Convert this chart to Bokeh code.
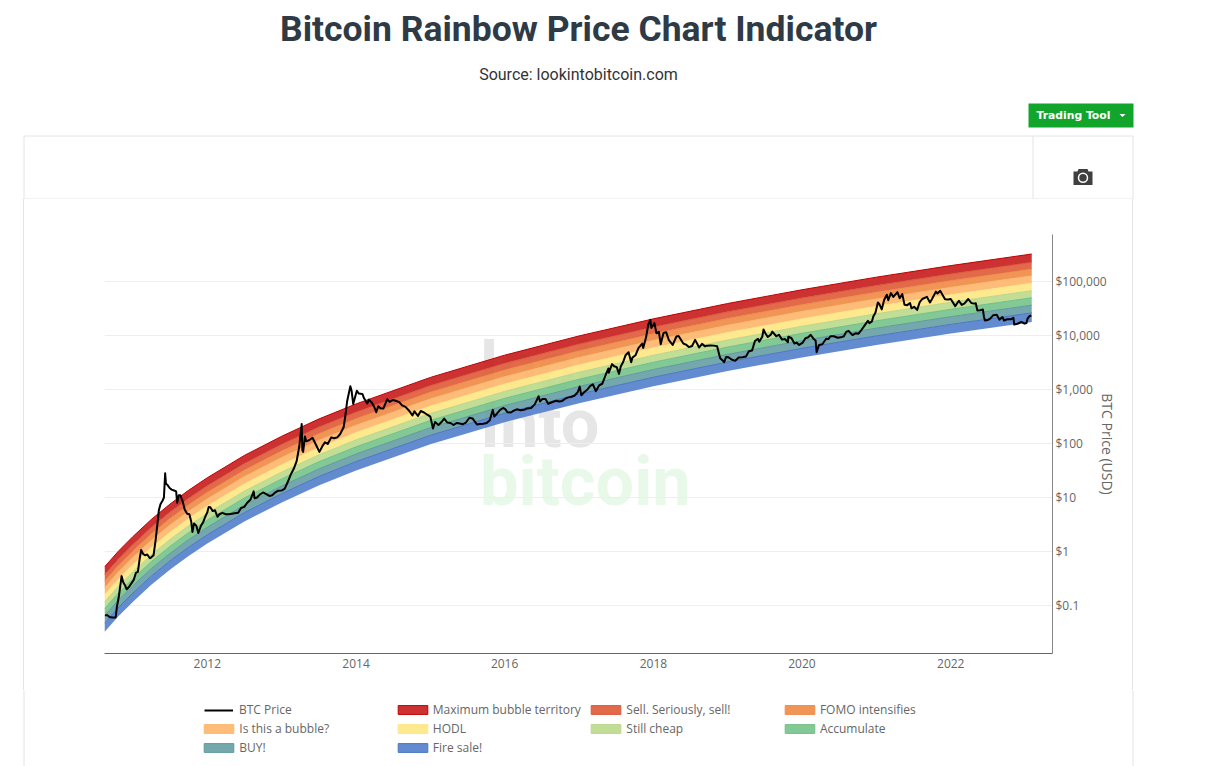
import pandas as pd
from bokeh.plotting import figure
from bokeh.layouts import column
from bokeh.embed import file_html
from bokeh.resources import INLINE
from bokeh.core.properties import value
from bokeh.models import (ColumnDataSource, DatetimeTickFormatter, FixedTicker,
                          Legend, LegendItem, Range1d)

title_text = "Bitcoin Rainbow Price Chart Indicator"
source_text = "Source: lookintobitcoin.com"
button_text = "Trading Tool"
y_title = "BTC Price (USD)"
watermark_rows = ["look", "Into", "bitcoin"]
watermark_colors = ["#e6e6e6", "#e6e6e6", "#e8f9ea"]

year_ticks = ["2012-01-01", "2014-01-01", "2016-01-01", "2018-01-01", "2020-01-01", "2022-01-01"]
price_ticks = [0.1, 1, 10, 100, 1000, 10000, 100000]
price_tick_labels = ["$0.1", "$1", "$10", "$100", "$1,000", "$10,000", "$100,000"]

# BTC price, year by year
d2010 = ["08-17","08-28","09-08","09-20","10-01","10-08","10-14","10-24","11-06","11-14","11-22","12-01","12-12","12-25"]
p2010 = [.066,.066,.061,.06,.06,.06,.095,.15,.35,.27,.24,.2,.22,.26]
d2011 = ["01-05","01-15","01-25","02-02","02-10","02-20","03-01","03-12","03-25","04-01","04-12","04-22","05-01","05-08","05-16","05-26","06-02","06-08","06-12","06-20","06-30","07-10","07-22","08-01","08-06","08-14","08-22","09-02","09-12","09-24","10-05","10-14","10-20","10-28","11-08","11-18","12-01","12-12","12-22"]
p2011 = [.3,.4,.42,.7,1.07,.9,.85,.88,.75,.78,.85,1.6,3.2,5.8,7.5,8.7,10,28,18,17,15,14,13.5,13,8,11,11,8.5,6,5,4.9,3.6,2.3,3.3,3,2.2,3,3.5,4.4]
d2012 = ["01-01","01-08","01-16","01-28","02-08","02-20","03-01","03-15","04-01","04-15","05-01","05-15","06-01","06-15","07-01","07-15","08-01","08-16","08-20","09-01","09-15","10-01","10-15","11-01","11-15","12-01","12-15"]
p2012 = [5.3,6.7,6.6,5.6,5.8,4.4,4.9,5.2,4.9,4.9,5,5.1,5.2,6.4,6.7,8,9.2,13,9.7,10,11.3,12.4,11.7,10.7,11,12.5,13.4]
d2013 = ["01-01","01-15","02-01","02-15","03-01","03-15","03-28","04-09","04-12","04-16","04-25","05-01","05-15","06-01","06-15","07-05","07-20","08-01","08-15","09-01","09-15","10-01","10-15","11-01","11-10","11-18","11-25","12-04","12-10","12-18","12-28"]
p2013 = [13.5,14.5,20,27,34,47,88,230,75,70,135,110,115,128,100,70,90,105,98,130,125,130,150,200,340,600,800,1150,950,540,740]
d2014 = ["01-05","01-15","02-01","02-10","02-25","03-05","03-20","04-01","04-10","04-20","05-01","05-15","06-03","06-15","07-01","07-15","08-01","08-15","09-01","09-20","10-05","10-15","11-01","11-15","12-01","12-15"]
p2014 = [950,840,830,680,550,650,570,470,380,490,450,445,660,590,640,620,585,510,478,400,330,395,325,400,375,345]
d2015 = ["01-01","01-14","01-24","02-10","02-25","03-10","03-25","04-10","04-25","05-10","05-25","06-10","06-25","07-12","07-28","08-18","09-01","09-18","10-05","10-20","11-04","11-11","11-25","12-10","12-25"]
p2015 = [315,190,250,220,250,290,245,240,220,240,235,228,245,300,290,225,230,232,240,270,420,315,360,420,455]
d2016 = ["01-05","01-15","02-01","02-15","03-01","03-20","04-05","04-20","05-10","05-28","06-16","06-23","07-05","07-20","08-02","08-20","09-10","09-25","10-10","10-28","11-10","11-25","12-10","12-25"]
p2016 = [430,380,375,405,430,412,420,445,455,530,750,600,670,665,545,580,620,600,615,690,715,735,775,890]
d2017 = ["01-04","01-12","01-25","02-10","02-25","03-10","03-24","04-10","04-25","05-10","05-25","05-27","06-12","06-22","07-05","07-16","07-25","08-05","08-17","09-01","09-14","09-20","10-05","10-20","11-07","11-12","11-26","12-07","12-17","12-22"]
p2017 = [1130,780,890,990,1170,1250,930,1200,1280,1800,2450,2050,2950,2700,2600,1950,2700,3200,4300,4900,3200,3900,4300,5900,7100,5900,9300,16000,19500,13800]
d2018 = ["01-06","01-16","01-28","02-06","02-20","03-05","03-18","04-06","04-24","05-05","05-28","06-10","06-24","07-10","07-25","08-14","08-28","09-12","09-20","10-10","10-25","11-10","11-20","11-25","12-06","12-15","12-24"]
p2018 = [17000,11000,11700,6900,11200,11500,8200,6700,9600,9800,7100,6800,6100,6400,8300,6000,7000,6300,6500,6550,6500,6350,4500,3800,3500,3200,4000]
d2019 = ["01-05","01-20","02-07","02-24","03-15","04-01","04-15","05-01","05-15","05-30","06-05","06-20","06-26","07-05","07-17","08-01","08-08","08-28","09-10","09-25","10-10","10-24","10-26","11-10","11-25","12-05","12-18"]
p2019 = [3950,3600,3400,3900,3950,4100,5100,5300,7900,8700,7700,9500,12900,11000,9400,10400,11800,9700,10300,8400,8600,7500,9500,9000,7100,7400,6700]
d2020 = ["01-05","01-18","02-01","02-13","02-28","03-08","03-13","03-25","04-10","04-29","05-10","05-20","06-05","06-25","07-10","07-25","08-05","08-17","09-05","09-20","10-05","10-20","11-05","11-20","11-27","12-10","12-17","12-27"]
p2020 = [7400,8900,9300,10300,8600,8100,4900,6700,6900,8700,8600,9700,9700,9100,9250,9700,11700,12200,10200,11000,10800,12800,15600,18700,17000,18300,22800,26500]
d2021 = ["01-08","01-14","01-27","02-08","02-21","02-28","03-13","03-25","04-14","04-25","05-08","05-19","06-01","06-15","06-22","07-05","07-20","08-01","08-14","09-06","09-21","10-01","10-20","10-28","11-10","11-22","12-04","12-20"]
p2021 = [41000,39000,30500,46000,57000,45000,61000,52000,63500,49000,58500,37000,36500,40000,32000,34000,29800,41000,47500,52000,41000,47500,65000,60000,67500,56500,47000,46500]
d2022 = ["01-01","01-23","02-10","02-24","03-10","03-28","04-12","04-25","05-04","05-12","05-25","06-08","06-13","06-18","07-01","07-15","07-29","08-15","08-28","09-12","09-20","10-05","10-25","11-05","11-09","11-25","12-14","12-30"]
p2022 = [47500,35000,44000,37000,39500,47500,40000,39000,39700,29000,29500,30300,22500,19000,19300,20800,23800,24300,19700,22000,19000,20000,20100,21200,16000,16500,17800,16600]
d2023 = ["01-08","01-14","01-22","02-01"]
p2023 = [17100,20800,22700,23500]
btc_years = {2010:(d2010,p2010),2011:(d2011,p2011),2012:(d2012,p2012),2013:(d2013,p2013),2014:(d2014,p2014),2015:(d2015,p2015),2016:(d2016,p2016),2017:(d2017,p2017),2018:(d2018,p2018),2019:(d2019,p2019),2020:(d2020,p2020),2021:(d2021,p2021),2022:(d2022,p2022),2023:(d2023,p2023)}

# Band edges, log10(USD), upper edge of each band then the floor
band_dates = ["2010-08-14","2010-10-19","2011-01-01","2011-04-01","2011-07-01","2011-10-01","2012-01-01","2012-07-01","2013-01-01","2013-07-01","2014-01-01","2015-01-01","2016-01-01","2017-01-01","2018-01-01","2019-01-01","2020-01-01","2021-01-01","2022-01-01","2023-02-03"]
edge_max_bubble = [-0.287,-0.003,0.278,0.594,0.876,1.133,1.366,1.779,2.135,2.452,2.733,3.224,3.636,3.993,4.309,4.593,4.848,5.081,5.295,5.510]
edge_sell = [-0.436,-0.153,0.128,0.444,0.725,0.982,1.215,1.627,1.983,2.299,2.580,3.070,3.482,3.839,4.154,4.438,4.693,4.925,5.139,5.354]
edge_fomo = [-0.555,-0.272,0.008,0.324,0.605,0.862,1.094,1.506,1.861,2.178,2.458,2.948,3.359,3.715,4.031,4.314,4.569,4.801,5.014,5.229]
edge_bubble = [-0.675,-0.391,-0.111,0.204,0.485,0.741,0.973,1.385,1.740,2.056,2.336,2.825,3.236,3.592,3.907,4.190,4.445,4.677,4.890,5.104]
edge_hodl = [-0.806,-0.523,-0.243,0.072,0.352,0.608,0.840,1.251,1.606,1.922,2.202,2.690,3.101,3.456,3.771,4.054,4.308,4.540,4.753,4.967]
edge_cheap = [-0.937,-0.654,-0.375,-0.060,0.220,0.476,0.707,1.118,1.472,1.788,2.067,2.555,2.965,3.321,3.635,3.917,4.171,4.403,4.616,4.830]
edge_accumulate = [-1.062,-0.780,-0.501,-0.187,0.094,0.349,0.580,0.991,1.345,1.660,1.939,2.427,2.836,3.191,3.505,3.787,4.041,4.272,4.485,4.699]
edge_buy = [-1.192,-0.910,-0.631,-0.317,-0.038,0.218,0.449,0.859,1.212,1.527,1.806,2.293,2.702,3.057,3.371,3.652,3.906,4.136,4.349,4.562]
edge_fire = [-1.330,-1.047,-0.769,-0.456,-0.176,0.079,0.309,0.719,1.072,1.387,1.665,2.152,2.560,2.915,3.228,3.510,3.763,3.993,4.206,4.419]
edge_floor = [-1.491,-1.209,-0.931,-0.618,-0.339,-0.084,0.146,0.555,0.908,1.222,1.500,1.986,2.394,2.748,3.061,3.342,3.595,3.825,4.037,4.250]
band_edges = [edge_max_bubble, edge_sell, edge_fomo, edge_bubble, edge_hodl, edge_cheap, edge_accumulate, edge_buy, edge_fire, edge_floor]
band_names = ["Maximum bubble territory","Sell. Seriously, sell!","FOMO intensifies","Is this a bubble?","HODL","Still cheap","Accumulate","BUY!","Fire sale!"]
band_fills = ["#c71c1c","#df5936","#f08a44","#fdb669","#fee783","#bbd98a","#74c389","#659fa4","#517ecb"]
band_lines = ["#c00000","#d9593c","#ee8a4a","#fbb871","#fde68a","#b9d88c","#72c088","#5f9a9f","#4a76c4"]


def ms(text):
    return pd.Timestamp(text).value / 1e6


X0, X1 = ms("2010-08-14"), ms("2023-05-16")
LOG0, LOG1 = -1.889, 5.871
F_LEFT, F_RIGHT, F_TOP, F_BOTTOM = 104, 1052, 234, 653
PAGE_W = 1207
HEAD_BOTTOM, MAIN_BOTTOM, PAGE_BOTTOM = 199, 690, 766
BOX_LEFT, BOX_RIGHT = 23, 1133
GREY = "#e4e4e4"


def px_x(px):
    return X0 + (px - F_LEFT) / (F_RIGHT - F_LEFT) * (X1 - X0)


def px_y(py):
    return 10 ** (LOG1 - (py - F_TOP) / (F_BOTTOM - F_TOP) * (LOG1 - LOG0))


# ---- page header: its data space is the page's pixels
h = figure(width=PAGE_W, height=HEAD_BOTTOM, x_range=Range1d(0, PAGE_W), y_range=Range1d(HEAD_BOTTOM, 0),
           x_axis_location=None, y_axis_location=None, toolbar_location=None, output_backend="svg",
           min_border=0, outline_line_color=None, tools="")
h.frame_align = False
h.grid.visible = False
h.text([578], [28.5], text=[title_text], text_font=value("Roboto"), text_font_style="bold", text_font_size="35.5px",
       text_color="#2e3a46", text_align="center", text_baseline="middle")
h.text([578], [74], text=[source_text], text_font=value("Roboto"), text_font_size="16px",
       text_color="#333333", text_align="center", text_baseline="middle")
h.quad(left=[1028], right=[1133], top=[103], bottom=[127], fill_color="#12a52c", line_color=None)
h.text([1036], [115], text=[button_text], text_font=value("DejaVu Sans"), text_font_style="bold", text_font_size="10.8px",
       text_color="#ffffff", text_align="left", text_baseline="middle")
h.patch([1119, 1125, 1122], [113.5, 113.5, 116.5], fill_color="#ffffff", line_color=None)
h.segment([23.5, 23.5, 1132.5, 1032.5, 23.5], [135.5, 135.5, 135.5, 135.5, 198.5],
          [1132.5, 23.5, 1132.5, 1032.5, 1132.5], [135.5, 199, 199, 198.5, 198.5], line_color=GREY, line_width=1)
h.patch([1073, 1077, 1078, 1087, 1088, 1092, 1092, 1073], [171, 171, 168.5, 168.5, 171, 171, 184.5, 184.5],
        fill_color="#3f3f3f", line_color=None)
h.scatter([1082.5], [177.3], size=9, marker="circle", fill_color="#3f3f3f", line_color="#ffffff", line_width=1.5)

# ---- chart
p = figure(width=BOX_RIGHT - BOX_LEFT, height=MAIN_BOTTOM - HEAD_BOTTOM, x_axis_type="datetime", y_axis_type="log",
           y_axis_location="right", x_range=Range1d(X0, X1), y_range=Range1d(10 ** LOG0, 10 ** LOG1),
           toolbar_location=None, output_backend="svg", tools="", outline_line_color=None,
           min_border_left=F_LEFT - BOX_LEFT - 1, min_border_right=BOX_RIGHT - F_RIGHT + 1,
           min_border_top=F_TOP - HEAD_BOTTOM, min_border_bottom=MAIN_BOTTOM - F_BOTTOM,
           margin=(0, 0, 0, BOX_LEFT),
           styles={"border-left": f"1px solid {GREY}", "border-right": f"1px solid {GREY}"})
p.frame_align = False
p.xgrid.visible = False
p.ygrid.grid_line_color = "#eeeeee"
p.ygrid.grid_line_width = 1
p.ygrid.ticker = FixedTicker(ticks=price_ticks)

p.xaxis.ticker = FixedTicker(ticks=[ms(t) for t in year_ticks])
p.xaxis.formatter = DatetimeTickFormatter(years="%Y", months="%Y", days="%Y", hours="%Y", minutes="%Y", context=None)
p.yaxis.ticker = FixedTicker(ticks=price_ticks)
p.yaxis.major_label_overrides = dict(zip(price_ticks, price_tick_labels))
p.yaxis.axis_label = y_title
for ax in (p.xaxis[0], p.yaxis[0]):
    ax.major_tick_line_color = None
    ax.minor_tick_line_color = None
    ax.major_tick_out = 0
    ax.major_tick_in = 0
    ax.minor_tick_out = 0
    ax.major_label_text_font = "Open Sans"
    ax.major_label_text_font_size = "12px"
    ax.major_label_text_color = "#666666"
p.xaxis.axis_line_color = "#666666"
p.xaxis.major_label_standoff = 5
p.yaxis.axis_line_color = "#888888"
p.yaxis.major_label_standoff = 3
p.yaxis.axis_label_orientation = "vertical"
p.yaxis.axis_label_text_font = "Open Sans"
p.yaxis.axis_label_text_font_size = "14px"
p.yaxis.axis_label_text_font_style = "normal"
p.yaxis.axis_label_text_color = "#666666"
p.yaxis.axis_label_standoff = -12

for row, colour, base in zip(watermark_rows, watermark_colors, [390, 447, 505]):
    p.text([px_x(479.5)], [px_y(base - 24)], text=[row], text_font=value("Roboto"), text_font_style="bold",
           text_font_size="68.5px", text_color=colour, text_align="left", text_baseline="alphabetic", level="underlay")

band_x = pd.to_datetime(band_dates)
for i, name in enumerate(band_names):
    upper = [10 ** v for v in band_edges[i]]
    lower = [10 ** v for v in band_edges[i + 1]]
    p.varea(band_x, upper, lower, fill_color=band_fills[i], fill_alpha=0.9)
    p.line(band_x, upper, line_color=band_lines[i], line_width=1)

btc_dates, btc_prices = [], []
for year, (days, prices) in btc_years.items():
    btc_dates += [pd.Timestamp(f"{year}-{d}") for d in days]
    btc_prices += prices
p.line(x="d", y="v", source=ColumnDataSource(dict(d=btc_dates, v=btc_prices)),
       line_color="#000000", line_width=2, line_join="round")

# ---- legend strip under the chart: four columns at the reference's column starts
f = figure(width=PAGE_W, height=PAGE_BOTTOM - MAIN_BOTTOM, x_range=Range1d(0, PAGE_W),
           y_range=Range1d(PAGE_BOTTOM, MAIN_BOTTOM), x_axis_location=None, y_axis_location=None,
           toolbar_location=None, output_backend="svg", min_border=0, outline_line_color=None, tools="")
f.frame_align = False
f.grid.visible = False
f.segment([BOX_LEFT + 0.5, BOX_RIGHT - 0.5], [MAIN_BOTTOM, MAIN_BOTTOM], [BOX_LEFT + 0.5, BOX_RIGHT - 0.5],
          [PAGE_BOTTOM, PAGE_BOTTOM], line_color=GREY, line_width=1)
# the legend keys: sources lie outside the strip's range, only their legend glyphs show
key_btc = f.line(x=[-30, -20], y=[700, 700], line_color="#000000", line_width=2)
key_bands = [f.quad(left=[-30], right=[-20], top=[700], bottom=[705], fill_color=band_fills[i], fill_alpha=0.9,
                    line_color=band_lines[i], line_width=1) for i in range(len(band_names))]
named_bands = list(zip(band_names, key_bands))
common = dict(orientation="vertical", border_line_color=None, background_fill_alpha=0, margin=0, padding=0, spacing=2,
              label_height=14, label_text_font="Open Sans", label_text_font_size="12px", label_text_color="#666666")
# a legend's area key is drawn at 80% of glyph_width, a line key at 100%, so the line has its own legend
f.add_layout(Legend(items=[LegendItem(label="BTC Price", renderers=[key_btc])], location=(204, 48),
                    glyph_width=29, glyph_height=8, label_standoff=6, **common))
column_items = [[named_bands[3], named_bands[7]], [named_bands[0], named_bands[4], named_bands[8]],
                [named_bands[1], named_bands[5]], [named_bands[2], named_bands[6]]]
for items, col_x, bottom in zip(column_items, [204, 397.5, 591, 784.6], [10, 10, 29, 29]):
    f.add_layout(Legend(items=[LegendItem(label=n, renderers=[r]) for n, r in items],
                        location=(col_x - 3.7, bottom), glyph_width=37, glyph_height=11, label_standoff=2, **common))

open("out.html", "w").write(file_html(column(h, p, f, spacing=0), INLINE))
